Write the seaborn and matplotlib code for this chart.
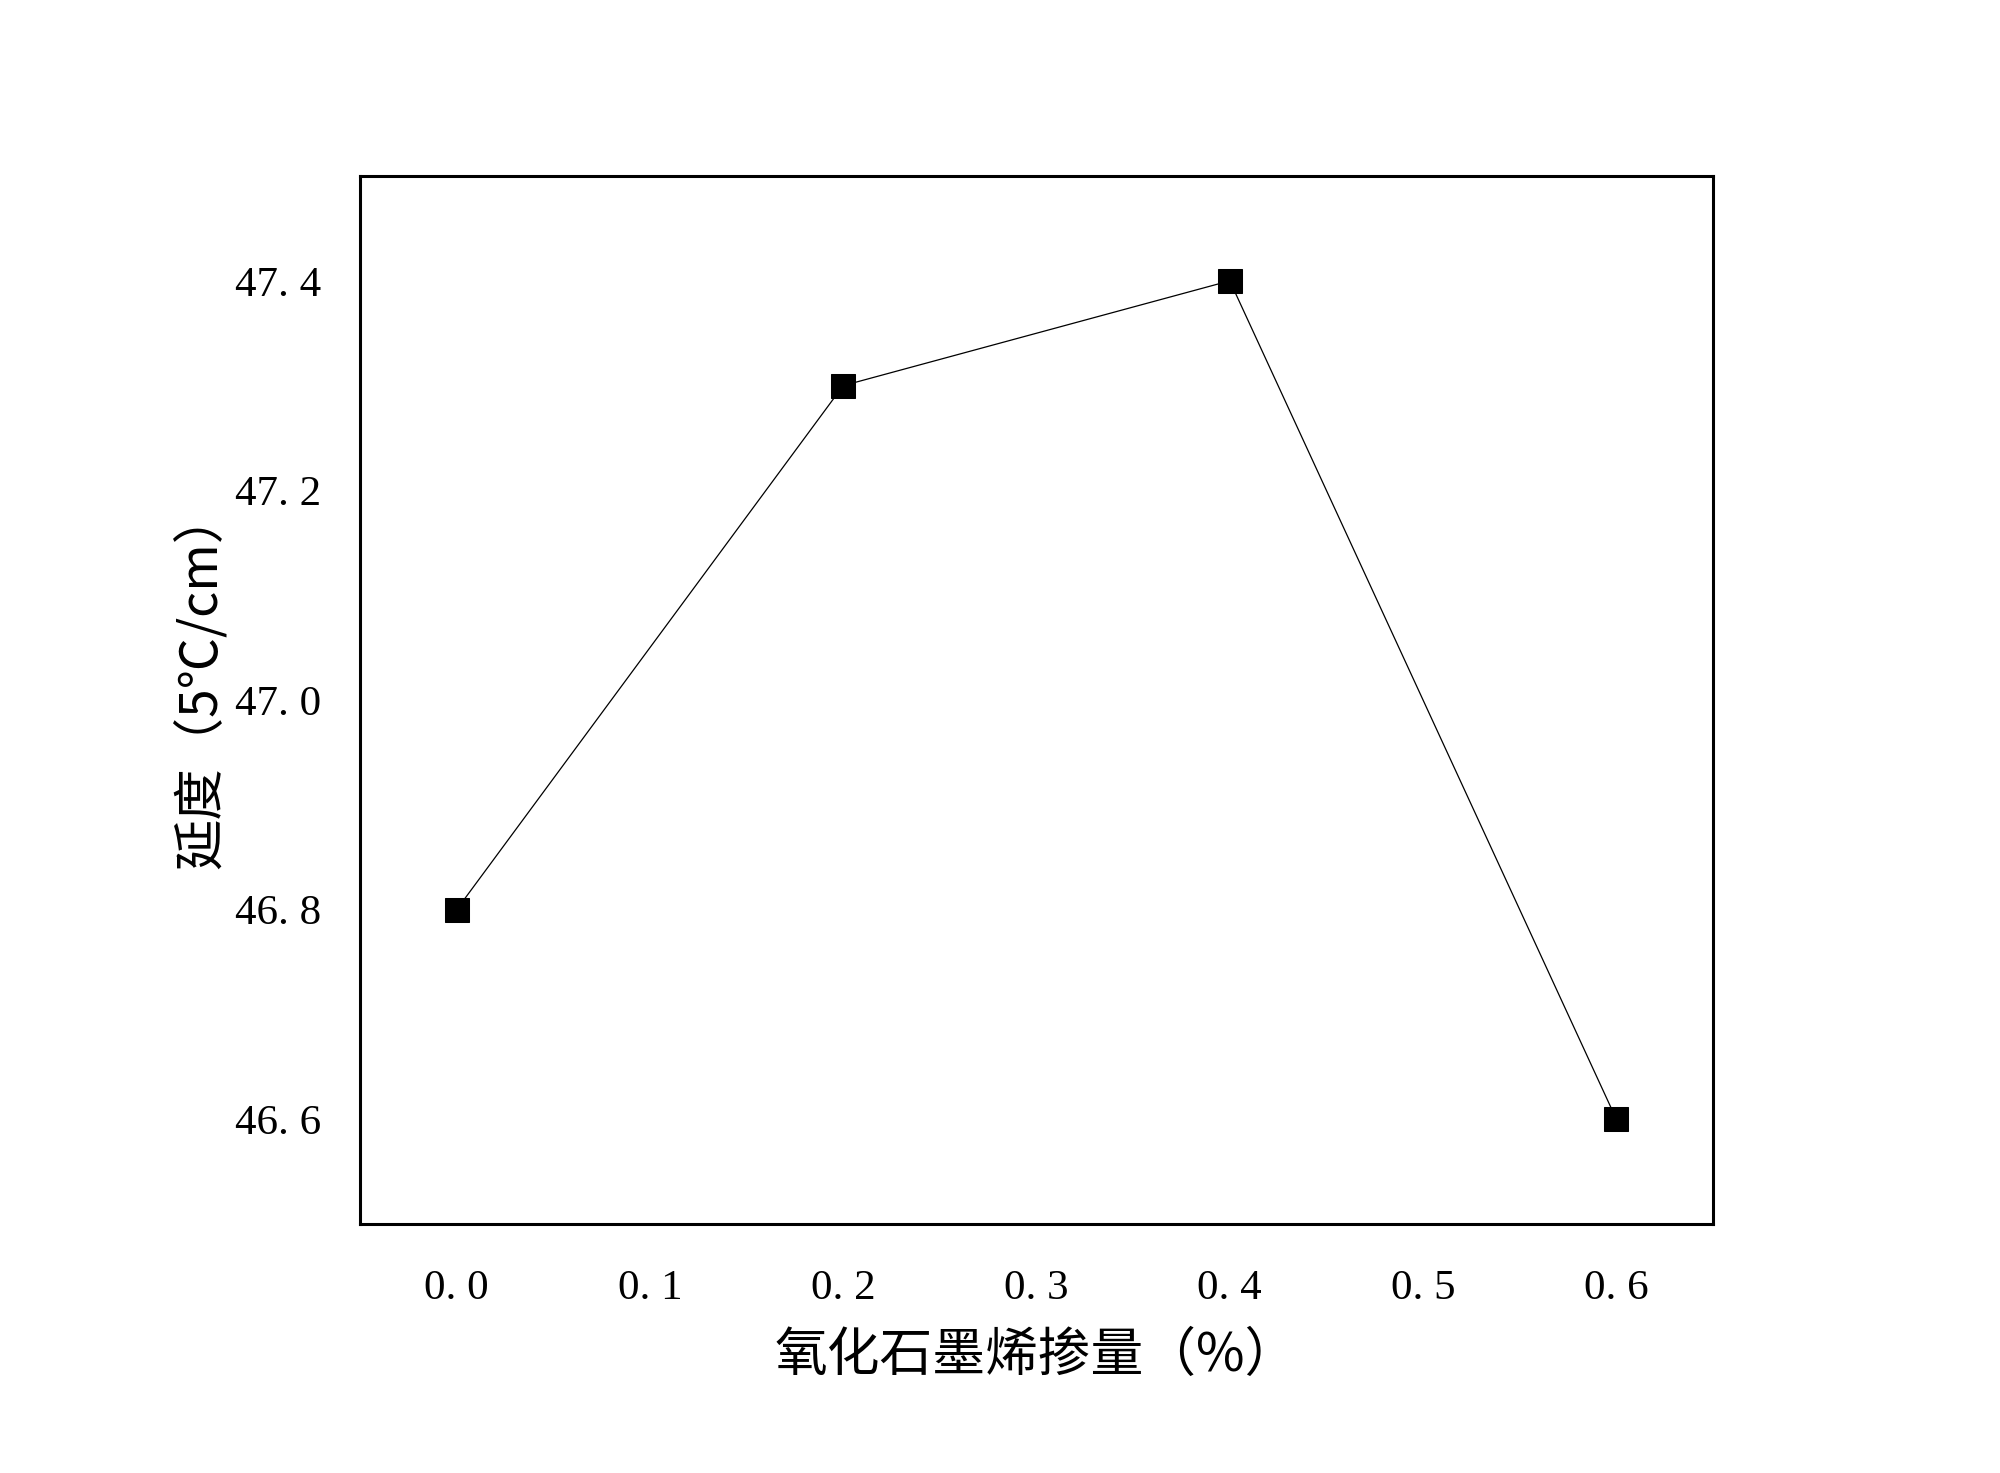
import matplotlib
matplotlib.use("Agg")
import matplotlib.pyplot as plt
import seaborn as sns
import pandas as pd

go_content = [0.0, 0.2, 0.4, 0.6]
ductility = [46.8, 47.3, 47.4, 46.6]
x_ticks = [0.0, 0.1, 0.2, 0.3, 0.4, 0.5, 0.6]
y_ticks = [46.6, 46.8, 47.0, 47.2, 47.4]
x_tick_labels = ["0. 0", "0. 1", "0. 2", "0. 3", "0. 4", "0. 5", "0. 6"]
y_tick_labels = ["46. 6", "46. 8", "47. 0", "47. 2", "47. 4"]
x_label = "氧化石墨烯掺量（%）"
y_label = "延度（5℃/cm）"

sns.set_theme(style="white")
plt.rcParams['font.family'] = ['Liberation Serif', 'Noto Sans CJK SC', 'DejaVu Sans']
plt.rcParams['text.color'] = 'black'
plt.rcParams['xtick.color'] = 'black'
plt.rcParams['ytick.color'] = 'black'
plt.rcParams['axes.labelcolor'] = 'black'

df = pd.DataFrame({"x": go_content, "y": ductility})

fig = plt.figure(figsize=(20, 14.73), dpi=100)
ax = fig.add_axes([0.18, 0.169, 0.6765, 0.7115])

sns.lineplot(data=df, x="x", y="y", ax=ax, color="black", linewidth=0.9,
             marker="s", markersize=17, markeredgecolor="black",
             markerfacecolor="black")

ax.set_xlim(-0.05, 0.65)
ax.set_ylim(46.5, 47.5)
ax.set_xticks(x_ticks)
ax.set_yticks(y_ticks)
ax.set_xticklabels(x_tick_labels, fontsize=31)
ax.set_yticklabels(y_tick_labels, fontsize=31)
ax.tick_params(axis="x", length=0, pad=33)
ax.tick_params(axis="y", length=0, pad=28)

ax.set_xlabel(x_label, fontsize=38, family=['Noto Sans CJK SC', 'DejaVu Sans'], labelpad=14)
ax.set_ylabel(y_label, fontsize=37, family=['Noto Sans CJK SC', 'DejaVu Sans'], labelpad=8)
ax.yaxis.set_label_coords(-0.097, 0.52)

for s in ax.spines.values():
    s.set_visible(True)
    s.set_color("black")
    s.set_linewidth(2.2)

fig.savefig("out.png", dpi=100, facecolor="white")
